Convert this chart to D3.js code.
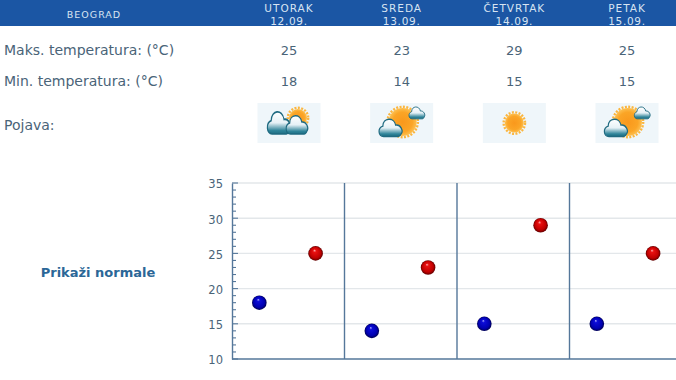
<!DOCTYPE html>
<html>
<head>
<meta charset="utf-8">
<script src="https://cdn.jsdelivr.net/npm/d3@7"></script>
<style>
    html, body { margin: 0; padding: 0; background: #fff; overflow: hidden; }
    text { font-family: "DejaVu Sans", sans-serif; }
</style>
</head>
<body>
<div id="chart"></div>
<script>
const city = "BEOGRAD";
const days = ["UTORAK", "SREDA", "ČETVRTAK", "PETAK"];
const dates = ["12.09.", "13.09.", "14.09.", "15.09."];
const maxTemps = [25, 23, 29, 25];
const minTemps = [18, 14, 15, 15];
const icons = ["cloudsun", "suncloud", "sun", "suncloud"];
const yTicks = [10, 15, 20, 25, 30, 35];
const minorTicks = d3.range(10, 36);

const width = 676, height = 380;
const textColor = "#4a6478";

const svg = d3.select("#chart").append("svg")
    .attr("width", width)
    .attr("height", height)
    .style("display", "block");

const defs = svg.append("defs");

function radial(id, stops, fx, fy) {
    let g = defs.append("radialGradient").attr("id", id)
        .attr("fx", fx).attr("fy", fy);
    stops.forEach(s => g.append("stop").attr("offset", s[0]).attr("stop-color", s[1]));
}
radial("ballRed", [[0, "#ffb0b0"], [0.22, "#e81010"], [0.75, "#c00000"], [1, "#600000"]], "42%", "28%");
radial("ballBlue", [[0, "#b0b0ff"], [0.2, "#0c0cd8"], [0.75, "#0000b0"], [1, "#000050"]], "42%", "28%");
radial("sunFill", [[0, "#f9981c"], [0.7, "#fba526"], [1, "#fdc050"]], "50%", "50%");

let cloudGrad = defs.append("linearGradient").attr("id", "cloudFill")
    .attr("x1", 0).attr("y1", 0).attr("x2", 0).attr("y2", 1);
cloudGrad.append("stop").attr("offset", 0).attr("stop-color", "#ffffff");
cloudGrad.append("stop").attr("offset", 0.5).attr("stop-color", "#e6f1f6");
cloudGrad.append("stop").attr("offset", 0.85).attr("stop-color", "#2f8499");
cloudGrad.append("stop").attr("offset", 1).attr("stop-color", "#1f6f85");

// header bar
svg.append("rect")
    .attr("x", 0).attr("y", 0)
    .attr("width", width).attr("height", 26)
    .attr("fill", "#1b56a4");

// one column per day
const colX = d3.scalePoint()
    .domain(days)
    .range([289, 627]);

svg.append("text")
    .attr("x", 94).attr("y", 17.5)
    .attr("text-anchor", "middle")
    .attr("font-size", 9.5)
    .attr("letter-spacing", 1)
    .attr("fill", "#d8e4f2")
    .text(city);

days.forEach((d, i) => {
    let x = colX(d);
    svg.append("text").attr("x", x).attr("y", 11.5)
        .attr("text-anchor", "middle").attr("font-size", 10.5)
        .attr("letter-spacing", 1).attr("fill", "#d8e4f2").text(d);
    svg.append("text").attr("x", x).attr("y", 25)
        .attr("text-anchor", "middle").attr("font-size", 10.5)
        .attr("letter-spacing", 0.7).attr("fill", "#d8e4f2").text(dates[i]);
    svg.append("text").attr("x", x).attr("y", 55)
        .attr("text-anchor", "middle").attr("font-size", 13)
        .attr("fill", textColor).text(maxTemps[i]);
    svg.append("text").attr("x", x).attr("y", 86)
        .attr("text-anchor", "middle").attr("font-size", 13)
        .attr("fill", textColor).text(minTemps[i]);
});

// row labels
[["Maks. temperatura: (°C)", 55], ["Min. temperatura: (°C)", 86], ["Pojava:", 130]].forEach(r => {
    svg.append("text").attr("x", 4).attr("y", r[1])
        .attr("font-size", 14)
        .attr("fill", textColor).text(r[0]);
});

// weather icons
function drawCloud(g, x, y, sx, sy) {
    g.append("path")
        .attr("transform", `translate(${x},${y}) scale(${sx},${sy})`)
        .attr("d", "M-10,9 C-17,9 -18,0 -11,-2 C-11,-11 3,-12 5,-3 C11,-4 15,3 12,6 C11,8 10,9 8,9 Z")
        .attr("fill", "url(#cloudFill)")
        .attr("stroke", "#1f6a80")
        .attr("stroke-width", 1.5);
}

function drawSun(g, x, y, r) {
    g.append("circle").attr("cx", x).attr("cy", y).attr("r", r + 1.2)
        .attr("fill", "none").attr("stroke", "#fbb63f")
        .attr("stroke-width", 2.4).attr("stroke-dasharray", "2 1.4");
    g.append("circle").attr("cx", x).attr("cy", y).attr("r", r)
        .attr("fill", "url(#sunFill)");
}

days.forEach((d, i) => {
    let g = svg.append("g").attr("transform", `translate(${colX(d)},123)`);
    g.append("rect").attr("x", -31.5).attr("y", -20)
        .attr("width", 63).attr("height", 40).attr("fill", "#eff6fa");
    if (icons[i] === "cloudsun") {
        drawSun(g, 9, -5, 9);
        drawCloud(g, -9, 0, 0.8, 1.2);
        drawCloud(g, 9, 2, 0.75, 1);
    } else if (icons[i] === "suncloud") {
        drawSun(g, 1, -1, 14);
        drawCloud(g, 16, -10, 0.55, 0.65);
        drawCloud(g, -10, 5, 0.8, 0.95);
    } else {
        drawSun(g, 0, 0, 9.5);
    }
});

svg.append("text")
    .attr("x", 98).attr("y", 277)
    .attr("text-anchor", "middle")
    .attr("font-size", 13)
    .attr("font-weight", "bold")
    .attr("fill", "#2b6797")
    .text("Prikaži normale");

// chart
const plot = {left: 232, right: 682, top: 183, bottom: 359};

const y = d3.scaleLinear()
    .domain([10, 35])
    .range([plot.bottom, plot.top]);

const band = d3.scaleBand()
    .domain(days)
    .range([plot.left, plot.right]);

const inner = d3.scalePoint()
    .domain(["min", "max"])
    .range([band.bandwidth() * 0.243, band.bandwidth() * 0.743]);

// grid lines
svg.append("g")
    .selectAll("line")
    .data(yTicks.slice(1))
    .join("line")
    .attr("x1", plot.left)
    .attr("x2", plot.right)
    .attr("y1", d => y(d))
    .attr("y2", d => y(d))
    .attr("stroke", "#e3e7ea")
    .attr("stroke-width", 1.4);

// day separators
svg.append("g")
    .selectAll("line")
    .data(days.slice(1))
    .join("line")
    .attr("x1", d => band(d))
    .attr("x2", d => band(d))
    .attr("y1", plot.top)
    .attr("y2", plot.bottom)
    .attr("stroke", "#55779a")
    .attr("stroke-width", 1.4);

// minor ticks
svg.append("g")
    .selectAll("line")
    .data(minorTicks)
    .join("line")
    .attr("x1", plot.left)
    .attr("x2", d => plot.left + (d % 5 === 0 ? 6 : 4))
    .attr("y1", d => y(d))
    .attr("y2", d => y(d))
    .attr("stroke", "#55779a")
    .attr("stroke-width", 1.1);

// y axis
const yAxis = d3.axisLeft(y)
    .tickValues(yTicks)
    .tickSize(0)
    .tickPadding(9);

let axisG = svg.append("g")
    .attr("transform", `translate(${plot.left},0)`)
    .call(yAxis);
axisG.select(".domain").attr("stroke", "#55779a").attr("stroke-width", 1.4);
axisG.selectAll("text")
    .attr("font-size", 11.5)
    .attr("dy", "0.42em")
    .attr("font-family", "'DejaVu Sans', sans-serif")
    .attr("fill", textColor);

// x baseline
svg.append("line")
    .attr("x1", plot.left).attr("x2", plot.right)
    .attr("y1", plot.bottom).attr("y2", plot.bottom)
    .attr("stroke", "#55779a").attr("stroke-width", 1.4);

// points
svg.append("g")
    .selectAll("circle")
    .data(minTemps.map((v, i) => ({day: days[i], v: v})))
    .join("circle")
    .attr("cx", d => band(d.day) + inner("min"))
    .attr("cy", d => y(d.v))
    .attr("r", 7.3)
    .attr("fill", "url(#ballBlue)");

svg.append("g")
    .selectAll("circle")
    .data(maxTemps.map((v, i) => ({day: days[i], v: v})))
    .join("circle")
    .attr("cx", d => band(d.day) + inner("max"))
    .attr("cy", d => y(d.v))
    .attr("r", 7.3)
    .attr("fill", "url(#ballRed)");
</script>
</body>
</html>
